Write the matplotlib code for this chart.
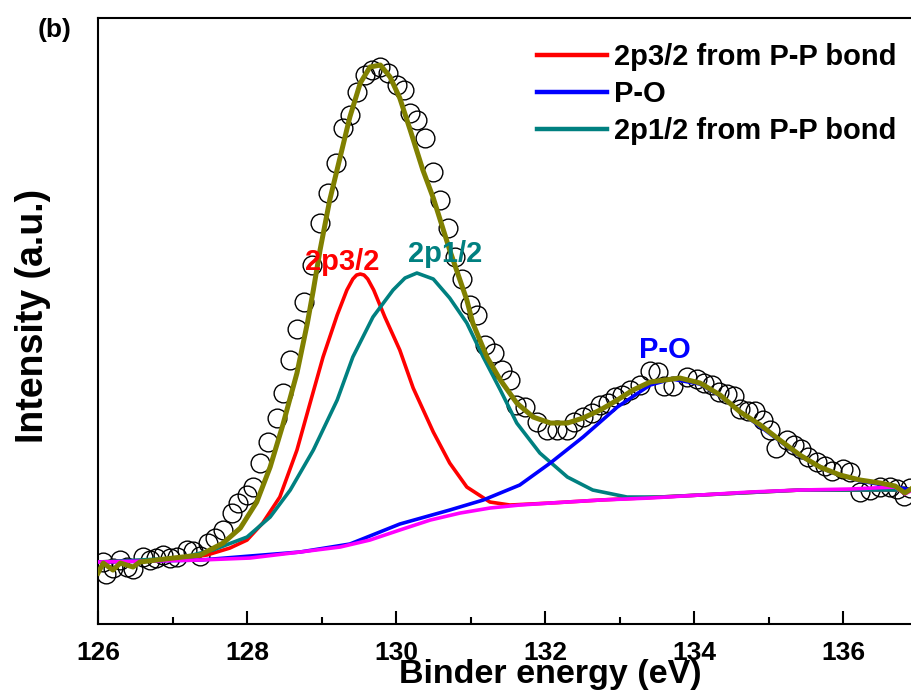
import matplotlib
matplotlib.use("Agg")
import matplotlib.pyplot as plt
from matplotlib.ticker import MultipleLocator

plt.rcParams["font.family"] = ["Liberation Sans", "DejaVu Sans"]
plt.rcParams["font.weight"] = "bold"

# ── measured spectrum (binding energy in eV, intensity in a.u.) ──
exp_x = [126.07, 126.11, 126.20, 126.30, 126.39, 126.47, 126.60, 126.70, 126.78, 126.87,
         126.97, 127.06, 127.19, 127.28, 127.37, 127.48, 127.57, 127.68, 127.80, 127.88,
         128.00, 128.08, 128.17, 128.28, 128.40, 128.48, 128.58, 128.67, 128.77, 128.87,
         128.98, 129.09, 129.19, 129.29, 129.38, 129.48, 129.58, 129.68, 129.79, 129.89,
         130.01, 130.11, 130.19, 130.28, 130.39, 130.50, 130.59, 130.70, 130.79, 130.89,
         130.99, 131.09, 131.19, 131.32, 131.42, 131.53, 131.61, 131.73, 131.89, 132.03,
         132.16, 132.30, 132.39, 132.51, 132.63, 132.74, 132.85, 132.94, 133.03, 133.14,
         133.28, 133.41, 133.52, 133.60, 133.72, 133.91, 134.04, 134.13, 134.24, 134.34,
         134.44, 134.54, 134.62, 134.72, 134.82, 134.93, 135.02, 135.10, 135.25, 135.34,
         135.44, 135.53, 135.65, 135.76, 135.85, 136.00, 136.09, 136.23, 136.36, 136.50,
         136.63, 136.72, 136.82, 136.90]
exp_y = [62, 50, 56, 64, 57, 55, 67, 64, 66, 69,
         66, 67, 74, 73, 68, 81, 86, 94, 111, 121,
         129, 137, 161, 182, 206, 231, 264, 295, 322, 359,
         401, 431, 461, 496, 509, 532, 549, 554, 557, 551,
         539, 534, 511, 504, 486, 452, 424, 396, 367, 345,
         319, 309, 279, 271, 254, 244, 219, 217, 202, 194,
         194, 194, 202, 207, 211, 219, 221, 227, 229, 234,
         239, 253, 252, 238, 238, 247, 245, 241, 239, 232,
         230, 228, 215, 213, 213, 204, 194, 176, 184, 179,
         175, 167, 162, 158, 153, 155, 152, 132, 134, 137,
         137, 135, 128, 136]

# ── fitted envelope ──
fit_x = [126.00, 126.07, 126.20, 126.30, 126.47, 126.56, 127.01, 127.37, 127.68, 127.91,
         128.13, 128.31, 128.48, 128.67, 128.81, 128.89, 128.98, 129.11, 129.25, 129.38,
         129.52, 129.65, 129.79, 129.92, 130.05, 130.19, 130.36, 130.50, 130.72, 130.95,
         131.03, 131.22, 131.40, 131.62, 131.84, 132.07, 132.30, 132.51, 132.74, 132.97,
         133.18, 133.41, 133.81, 134.08, 134.35, 134.62, 134.89, 135.15, 135.42, 135.69,
         135.96, 136.23, 136.50, 136.70, 136.83, 136.93]
fit_y = [51, 61, 54, 61, 57, 62, 66, 69, 81, 96,
         122, 157, 199, 251, 301, 334, 374, 424, 467, 507,
         541, 557, 559, 547, 526, 494, 454, 426, 374, 324,
         301, 267, 244, 221, 207, 201, 201, 206, 214, 224,
         234, 242, 246, 241, 229, 212, 199, 184, 169, 157,
         149, 144, 141, 138, 131, 136]

# ── 2p3/2 component (P-P bond) ──
p32_x = [126.00, 127.10, 127.46, 127.77, 128.00, 128.21, 128.44, 128.67, 128.85, 129.02,
         129.21, 129.34, 129.42, 129.47, 129.52, 129.57, 129.62, 129.70, 129.85, 130.05,
         130.23, 130.50, 130.72, 130.95, 131.26, 131.53, 132.07, 132.74, 134.08, 135.42,
         136.93]
p32_y = [62, 65, 69, 76, 84, 101, 127, 174, 222, 267,
         309, 334, 345, 349, 350, 349, 345, 334, 307, 274,
         236, 192, 161, 137, 122, 119, 121, 124, 129, 134,
         134]

# ── 2p1/2 component (P-P bond) ──
p12_x = [126.00, 127.10, 127.54, 128.00, 128.31, 128.58, 128.89, 129.21, 129.42, 129.69,
         129.96, 130.12, 130.28, 130.50, 130.72, 130.95, 131.17, 131.40, 131.62, 131.93,
         132.30, 132.64, 133.10, 133.54, 134.08, 135.42, 136.93]
p12_y = [62, 66, 74, 87, 107, 134, 174, 224, 267, 307,
         334, 346, 351, 345, 326, 301, 267, 234, 201, 171,
         147, 134, 127, 127, 129, 134, 134]

# ── P-O component ──
po_x = [126.00, 127.37, 128.71, 129.38, 130.05, 130.72, 131.17, 131.66, 132.07, 132.51,
        132.97, 133.41, 133.70, 134.08, 134.35, 134.75, 135.15, 135.42, 135.83, 136.23,
        136.63, 136.93]
po_y = [62, 64, 72, 80, 100, 114, 124, 139, 161, 187,
        217, 239, 245, 240, 228, 205, 183, 168, 152, 143,
        138, 134]

# ── background ──
bg_x = [126.00, 126.70, 127.37, 128.04, 128.71, 129.25, 129.65, 130.05, 130.46, 130.86,
        131.26, 131.66, 132.07, 132.74, 133.41, 134.08, 134.75, 135.42, 136.09, 136.70,
        136.83, 136.93]
bg_y = [62, 63, 64, 66, 72, 77, 84, 94, 104, 111,
        116, 119, 121, 124, 126, 129, 132, 134, 135, 137,
        130, 134]

fig = plt.figure(figsize=(9.12, 6.96), dpi=100)
ax = fig.add_axes([0.1075, 0.1034, 0.8986, 0.8707])

ax.plot(exp_x, exp_y, "o", ms=13.5, mfc="none", mec="black", mew=1.0, zorder=2)
l1, = ax.plot(p32_x, p32_y, color="#FF0000", lw=2.6, zorder=3, label="2p3/2 from P-P bond")
l3, = ax.plot(p12_x, p12_y, color="#008080", lw=2.6, zorder=3, label="2p1/2 from P-P bond")
l2, = ax.plot(po_x, po_y, color="#0000FF", lw=2.6, zorder=3, label="P-O")
ax.plot(bg_x, bg_y, color="#FF00FF", lw=2.6, zorder=4)
ax.plot(fit_x, fit_y, color="#808000", lw=3.6, zorder=5)

ax.text(129.28, 362, "2p3/2", color="#FF0000", fontsize=21, fontweight="bold",
        ha="center", va="center", zorder=6)
ax.text(130.66, 370, "2p1/2", color="#008080", fontsize=21, fontweight="bold",
        ha="center", va="center", zorder=6)
ax.text(133.61, 274, "P-O", color="#0000FF", fontsize=21, fontweight="bold",
        ha="center", va="center", zorder=6)

ax.set_xlim(126, 137)
ax.set_ylim(0, 606)
ax.xaxis.set_major_locator(MultipleLocator(2))
ax.xaxis.set_minor_locator(MultipleLocator(1))
ax.tick_params(axis="x", which="major", direction="in", length=9.5, width=1.5,
               labelsize=19, pad=12)
ax.tick_params(axis="x", which="minor", direction="in", length=5, width=1.5)
ax.tick_params(axis="y", left=False, labelleft=False)
for lbl in ax.get_xticklabels():
    lbl.set_fontweight("bold")
for sp in ax.spines.values():
    sp.set_linewidth(1.5)

ax.set_xlabel("Binder energy (eV)", fontsize=24.5, fontweight="bold")
ax.xaxis.set_label_coords(0.552, -0.058)
ax.set_ylabel("Intensity (a.u.)", fontsize=27, fontweight="bold")
ax.yaxis.set_label_coords(-0.057, 0.508)

fig.text(0.06, 0.957, "(b)", fontsize=19, fontweight="bold", ha="center", va="center")

leg = ax.legend(handles=[l1, l2, l3], loc="upper left",
                bbox_to_anchor=(537 / 912, 1 - 43 / 696), bbox_transform=fig.transFigure,
                frameon=False, fontsize=21, handlelength=2.4, handletextpad=0.25,
                labelspacing=0.31, borderpad=0, borderaxespad=0)
for line in leg.get_lines():
    line.set_linewidth(3.2)

fig.savefig("out.png", dpi=100)
